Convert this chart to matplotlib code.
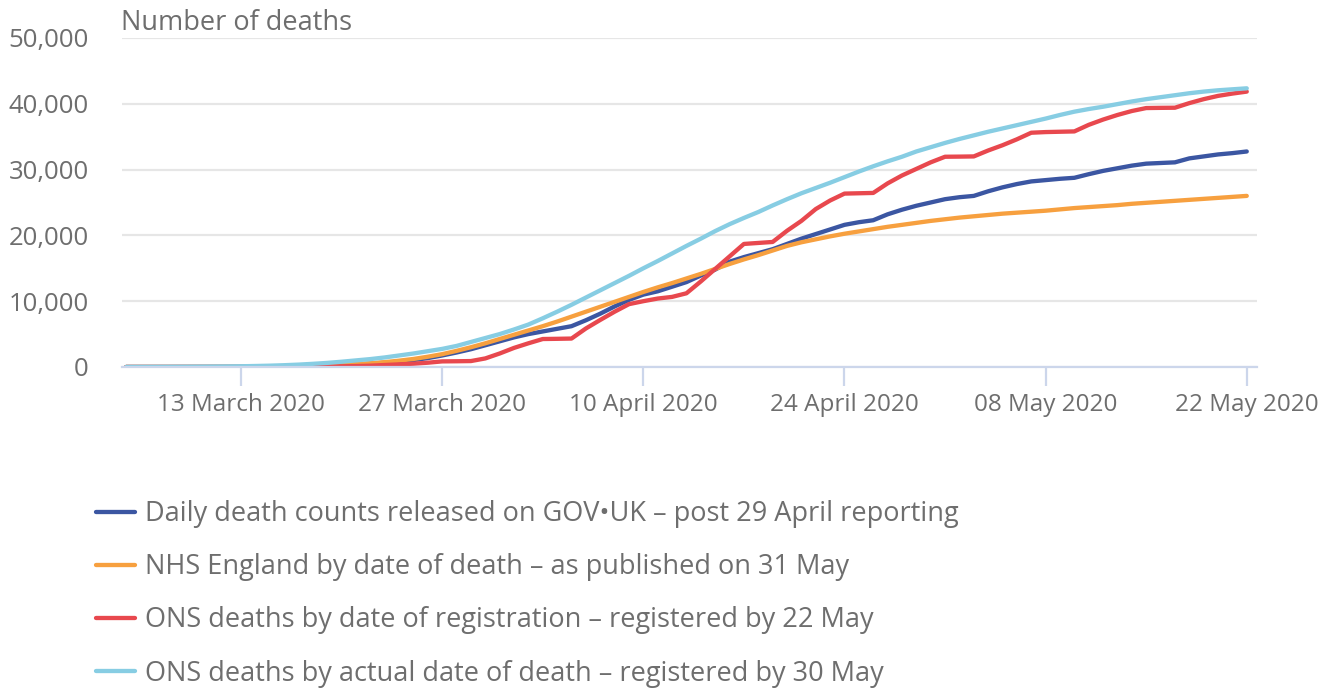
import numpy as np
import pandas as pd
import matplotlib
matplotlib.use("Agg")
import matplotlib.pyplot as plt
import matplotlib.dates as mdates

plt.rcParams['font.family'] = ['Open Sans', 'DejaVu Sans']

# ---------------------------
# data (cumulative deaths, 5 March - 22 May 2020)
# ---------------------------
dates = pd.date_range("2020-03-05", "2020-05-22", freq="D")

gov_uk = [0, 1, 2, 3, 5, 7, 9, 12, 15, 25, 40, 60, 90, 140, 200, 280, 380, 500, 650,
          800, 1050, 1350, 1750, 2200, 2700, 3300, 3900, 4500, 5000, 5400, 5800, 6200,
          7100, 8100, 9200, 10200, 11000, 11500, 12200, 12900, 13900, 14800, 16000,
          16700, 17300, 17900, 18700, 19500, 20200, 20900, 21600, 22000, 22300, 23200,
          23900, 24500, 25000, 25500, 25800, 26000, 26700, 27300, 27800, 28200, 28400,
          28600, 28750, 29300, 29800, 30200, 30600, 30900, 31000, 31100, 31700, 32000,
          32300, 32500, 32750]

nhs_england = [0, 1, 2, 3, 5, 8, 12, 18, 25, 40, 60, 90, 130, 180, 240, 320, 420, 560,
               740, 960, 1220, 1560, 1950, 2450, 3000, 3600, 4250, 4900, 5550, 6200,
               6900, 7650, 8400, 9150, 9900, 10650, 11400, 12100, 12750, 13450, 14150,
               14900, 15650, 16350, 17000, 17700, 18400, 18950, 19400, 19850, 20250,
               20600, 20950, 21300, 21600, 21900, 22200, 22450, 22700, 22900, 23100,
               23300, 23450, 23600, 23750, 23950, 24150, 24300, 24450, 24600, 24800,
               24950, 25100, 25250, 25400, 25550, 25700, 25850, 26000]

ons_registered = [0, 0, 0, 0, 1, 2, 3, 4, 5, 8, 15, 22, 30, 45, 60, 100, 140, 200, 300,
                  400, 500, 650, 850, 870, 900, 1300, 2050, 2900, 3600, 4250, 4280, 4320,
                  5850, 7150, 8400, 9550, 10000, 10400, 10650, 11200, 13000, 14900, 16800,
                  18700, 18850, 19000, 20700, 22200, 24000, 25300, 26350, 26400, 26450,
                  27900, 29100, 30100, 31100, 31950, 31970, 32000, 32900, 33700, 34600,
                  35600, 35700, 35750, 35800, 36800, 37600, 38300, 38900, 39350, 39380,
                  39400, 40100, 40700, 41200, 41550, 41850]

ons_actual = [5, 10, 15, 25, 35, 50, 65, 85, 110, 150, 200, 270, 360, 480, 620, 800,
              1000, 1200, 1450, 1750, 2050, 2400, 2750, 3200, 3800, 4400, 5000, 5700,
              6450, 7400, 8400, 9450, 10550, 11650, 12750, 13850, 15000, 16100, 17250,
              18400, 19500, 20650, 21700, 22650, 23550, 24550, 25500, 26400, 27200,
              28000, 28850, 29700, 30500, 31250, 31950, 32750, 33400, 34050, 34650,
              35200, 35750, 36250, 36750, 37250, 37750, 38300, 38800, 39200, 39550,
              39950, 40350, 40700, 41000, 41300, 41600, 41850, 42050, 42200, 42350]

labels = ["Daily death counts released on GOV\u2022UK \u2013 post 29 April reporting",
          "NHS England by date of death \u2013 as published on 31 May",
          "ONS deaths by date of registration \u2013 registered by 22 May",
          "ONS deaths by actual date of death \u2013 registered by 30 May"]
colors = ["#3b56a2", "#f7a03f", "#e8484e", "#87cde3"]

tick_dates = pd.to_datetime(["2020-03-13", "2020-03-27", "2020-04-10",
                             "2020-04-24", "2020-05-08", "2020-05-22"])

# ---------------------------
# figure
# ---------------------------
text_col = "#6e6e6e"
fig = plt.figure(figsize=(13.27, 6.88), dpi=100)
ax = fig.add_axes([0.0919, 0.4666, 0.8553, 0.4782])

for series, lab, col in zip([gov_uk, nhs_england, ons_registered, ons_actual], labels, colors):
    ax.plot(dates, series, color=col, lw=3.1, label=lab,
            solid_capstyle="round", solid_joinstyle="round")

ax.set_ylim(0, 50000)
ax.set_xlim(dates[0] - pd.Timedelta(hours=7), dates[-1] + pd.Timedelta(hours=17))
ax.set_yticks(range(0, 50001, 10000))
ax.yaxis.set_major_formatter(matplotlib.ticker.FuncFormatter(lambda v, p: f"{int(v):,}"))
ax.set_xticks(tick_dates)
ax.xaxis.set_major_formatter(mdates.DateFormatter("%d %B %Y"))

ax.grid(axis="y", color="#e6e6e6", lw=1.6)
ax.set_axisbelow(True)
for s in ["top", "right", "left"]:
    ax.spines[s].set_visible(False)
ax.spines["bottom"].set_color("#ccd6eb")
ax.spines["bottom"].set_linewidth(1.6)
ax.tick_params(axis="x", length=14, width=1.6, color="#ccd6eb", pad=5,
               labelsize=17.5, labelcolor=text_col)
ax.tick_params(axis="y", length=0, pad=24, labelsize=18.5, labelcolor=text_col)

fig.text(121 / 1327, 1 - 23 / 688, "Number of deaths", fontsize=19.5,
         color=text_col, va="center", ha="left")

leg = fig.legend(loc="upper left", bbox_to_anchor=(96 / 1327, 1 - 500 / 688),
                 frameon=False, fontsize=19.5, handlelength=1.44, handletextpad=0.37,
                 labelspacing=0.93, borderpad=0, borderaxespad=0)
for t in leg.get_texts():
    t.set_color(text_col)

fig.savefig("out.png", dpi=100)
